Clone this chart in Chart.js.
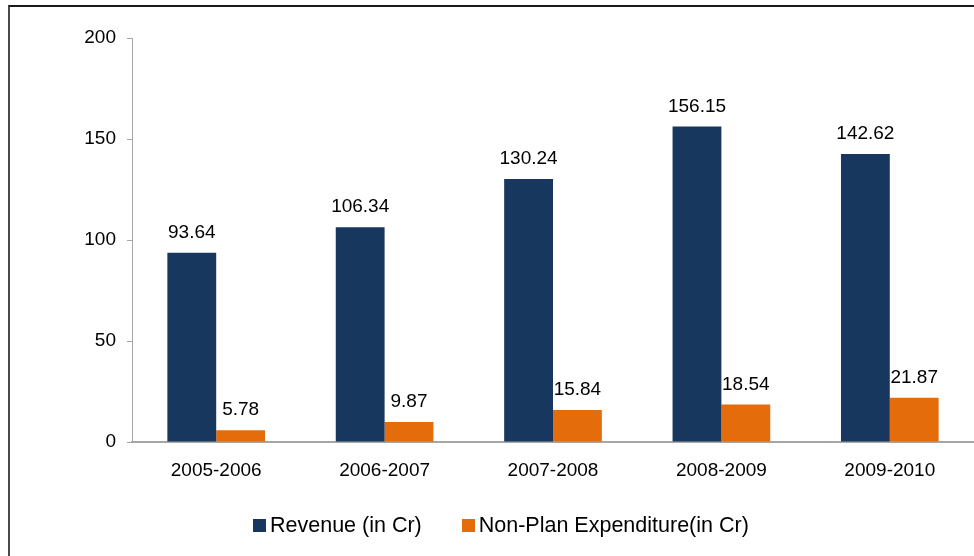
<!DOCTYPE html>
<html lang="en">
<head>
  <meta charset="UTF-8">
  <title>Revenue vs Non-Plan Expenditure</title>
  <script src="https://cdn.jsdelivr.net/npm/chart.js"></script>
  <style>
    html, body {
      margin: 0;
      padding: 0;
      background: #fff;
      overflow: hidden;
    }
    .frame {
      position: absolute;
      left: 8px;
      top: 5px;
      width: 1000px;
      height: 600px;
      border-top: 2px solid #1a1a1a;
      border-left: 2px solid #4a4a4a;
    }
    .wrap {
      position: absolute;
      left: 0;
      top: 0;
      width: 974px;
      height: 556px;
    }
    .legend {
      position: absolute;
      left: 253px;
      top: 513px;
      display: flex;
      align-items: center;
      font-family: "Liberation Sans", Arial, sans-serif;
      font-size: 21.5px;
      color: #000;
    }
    .legend span.box {
      display: inline-block;
      width: 13px;
      height: 13px;
      margin-right: 4px;
    }
    .legend .item {
      display: flex;
      align-items: center;
      margin-right: 40px;
    }
  </style>
</head>
<body>
  <div class="frame"></div>
  <div class="wrap">
    <canvas id="chart" width="974" height="556"></canvas>
  </div>
  <div class="legend" id="legend"></div>

  <script>
    const years = ['2005-2006', '2006-2007', '2007-2008', '2008-2009', '2009-2010'];
    const revenue = [93.64, 106.34, 130.24, 156.15, 142.62];
    const nonPlan = [5.78, 9.87, 15.84, 18.54, 21.87];
    const seriesNames = ['Revenue (in Cr)', 'Non-Plan Expenditure(in Cr)'];
    const colors = ['#17375E', '#E46C0A'];

    const font = '"Liberation Sans", Arial, sans-serif';

    // value labels above each bar
    const valueLabels = {
      id: 'valueLabels',
      afterDatasetsDraw(chart) {
        const ctx = chart.ctx;
        ctx.save();
        ctx.font = '19px ' + font;
        ctx.fillStyle = '#000';
        ctx.textAlign = 'center';
        ctx.textBaseline = 'alphabetic';
        chart.data.datasets.forEach((ds, i) => {
          chart.getDatasetMeta(i).data.forEach((bar, j) => {
            ctx.fillText(ds.data[j].toFixed(2), bar.x, bar.y - 15);
          });
        });
        ctx.restore();
      }
    };

    const chart = new Chart(document.getElementById('chart'), {
      type: 'bar',
      data: {
        labels: years,
        datasets: [
          { label: seriesNames[0], data: revenue, backgroundColor: colors[0] },
          { label: seriesNames[1], data: nonPlan, backgroundColor: colors[1] }
        ]
      },
      options: {
        responsive: false,
        animation: false,
        layout: { padding: { top: 38, right: 0, bottom: 0, left: 0 } },
        datasets: {
          bar: { barPercentage: 1, categoryPercentage: 0.58 }
        },
        plugins: {
          legend: { display: false },
          tooltip: { enabled: false }
        },
        scales: {
          x: {
            grid: { display: false },
            border: { color: '#A6A6A6', width: 2 },
            ticks: { color: '#000', font: { family: font, size: 19 }, padding: 9, maxRotation: 0 },
            afterFit(scale) { scale.height = 114; }
          },
          y: {
            min: 0,
            max: 200,
            grid: { drawOnChartArea: false, tickLength: 5, color: '#A6A6A6' },
            border: { color: '#A6A6A6', width: 1 },
            ticks: { stepSize: 50, color: '#000', font: { family: font, size: 19 }, padding: 11 },
            afterFit(scale) { scale.width = 132; }
          }
        }
      },
      plugins: [valueLabels]
    });

    // legend as html
    const legend = document.getElementById('legend');
    seriesNames.forEach((name, i) => {
      const item = document.createElement('div');
      item.className = 'item';
      const box = document.createElement('span');
      box.className = 'box';
      box.style.background = colors[i];
      const txt = document.createElement('span');
      txt.textContent = name;
      item.appendChild(box);
      item.appendChild(txt);
      legend.appendChild(item);
    });
  </script>
</body>
</html>
